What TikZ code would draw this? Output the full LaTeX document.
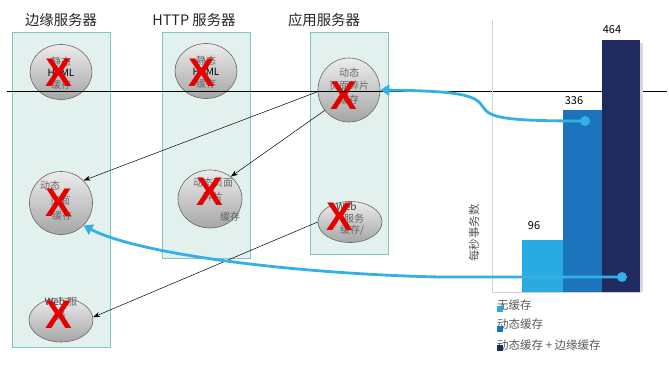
\documentclass[tikz,border=0pt]{standalone}
\usepackage{fontspec}
\setmainfont{Noto Sans CJK SC}
\newfontfamily\crossfont{Liberation Sans}
\usetikzlibrary{arrows.meta,shapes.geometric}

\definecolor{boxfill}{HTML}{E2F1EE}
\definecolor{boxline}{HTML}{80C6C2}
\definecolor{barlight}{HTML}{29ABE2}
\definecolor{barmid}{HTML}{1C75BC}
\definecolor{bardark}{HTML}{212A5E}
\definecolor{flow}{HTML}{33B1E6}

\begin{document}
\begin{tikzpicture}[x=1pt,y=-1pt,
        server/.style={draw=boxline, fill=boxfill, line width=0.8pt},
        store/.style={ellipse, draw=black!60, line width=0.6pt, top color=gray!15, bottom color=gray!70, inner sep=0pt},
        storetext/.style={text=black!60, font=\fontsize{10}{11.5}\selectfont, align=center, inner sep=0pt},
        miss/.style={text=red!90!black, font=\crossfont\bfseries\fontsize{40}{40}\selectfont, inner sep=0pt},
        call/.style={-{Stealth[length=7pt,width=5pt]}, line width=0.5pt},
        hit/.style={flow, line width=2.8pt, -{Triangle[length=9pt,width=11pt]}},
        title/.style={font=\fontsize{14.4}{15}\selectfont, text=black!85},
        value/.style={font=\fontsize{11}{11}\selectfont},
        legend/.style={font=\fontsize{11.5}{12}\selectfont, text=black!65, anchor=west, inner sep=0pt}]
        \useasboundingbox (0,0) rectangle (669,369);

        % Server columns
        \draw[server] (12,32) rectangle (110,347);
        \draw[server] (162,32) rectangle (250,258);
        \draw[server] (310,32) rectangle (388,254);
        \node[title] (edge) at (61,20) {边缘服务器};
        \node[title] (http) at (194,20) {HTTP 服务器};
        \node[title] (app) at (324,20) {应用服务器};

        % Caches
        \node[store, minimum width=62pt, minimum height=55pt] (e1) at (61,72) {};
        \node[store, minimum width=62pt, minimum height=55pt] (e2) at (206,71) {};
        \node[store, minimum width=62pt, minimum height=64pt] (e3) at (349,90) {};
        \node[store, minimum width=63pt, minimum height=63pt] (e4) at (61,203) {};
        \node[store, minimum width=64pt, minimum height=58pt] (e5) at (210,199) {};
        \node[store, minimum width=64pt, minimum height=41pt] (e6) at (350,222) {};
        \node[store, minimum width=64pt, minimum height=44pt] (e7) at (61,320) {};

        \node[storetext] (e1t) at (61,73) {静态\\\textcolor{black}{HTML}\\缓存};
        \node[storetext] (e2t) at (206,72) {静态\\\textcolor{black}{HTML}\\缓存};
        \node[storetext, font=\fontsize{10}{13.5}\selectfont] (e3t) at (349,86) {动态\\页面碎片\\缓存};
        \node[storetext, align=left, font=\fontsize{10}{15}\selectfont] (e4t) at (56,201) {动态\\\hspace{10pt}页面\\\hspace{12pt}缓存};
        \node[storetext, font=\fontsize{10}{14}\selectfont] (e5t) at (213,200) {动态页面\\碎片\\[6pt]\hspace{34pt}缓存};
        \node[storetext, align=left] (e6t) at (350,219) {\textcolor{black!75}{Web}\\\hspace{8pt}服务\\\hspace{4pt}缓存/};
        \node[storetext, font=\fontsize{10}{14}\selectfont] (e7t) at (61,309) {\textcolor{black!80}{Web} 服\\务};

        % Cache misses
        \node[miss] (x1) at (59,73) {X};
        \node[miss] (x2) at (202,73) {X};
        \node[miss] (x3) at (344,96) {X};
        \node[miss] (x4) at (59,203) {X};
        \node[miss] (x5) at (210,192) {X};
        \node[miss] (x6) at (340,217) {X};
        \node[miss] (x7) at (59,315) {X};

        % Requests passed down
        \draw[call] (e3.183) -- (e4.45);
        \draw[call] (e3.220) -- (e5.47);
        \draw[call] (e6.180) -- (e7.5);

        % Threshold
        \draw[line width=0.8pt] (7,91) -- (667,91);

        % Chart axes
        \draw[gray!35, line width=1pt] (492,20) -- (492,292) -- (641,292);
        \node[rotate=90, text=black!65, font=\fontsize{11.4}{12}\selectfont] (ylab) at (474,233) {每秒事务数};

        % Bars
        \fill[black!15] (640,43) rectangle (643,292);
        \fill[barlight] (522,240) rectangle (563,292);
        \fill[barmid] (563,110) rectangle (602,292);
        \fill[bardark] (602,40) rectangle (640,292);
        \node[value] (v1) at (534,226) {96};
        \node[value] (v2) at (574,101) {336};
        \node[value] (v3) at (612,30) {464};

        % Legend
        \node[legend] (l1) at (497,305) {无缓存};
        \node[legend] (l2) at (497,324) {动态缓存};
        \node[legend] (l3) at (497,345) {动态缓存 + 边缘缓存};
        \fill[barlight] (497,306) rectangle (503,312);
        \fill[barmid] (497,326) rectangle (503,332);
        \fill[bardark] (497,345) rectangle (503,351);

        % Throughput gains
        \coordinate (d1) at (585,121);
        \coordinate (d2) at (622,277);
        \draw[hit] (d1) .. controls (505,121) and (490,118) .. (483,107) .. controls (476,95) and (460,91) .. (e3.east);
        \draw[hit] (d2) -- (440,277) .. controls (300,274) and (140,255) .. (e4.-45);
        \fill[flow] (d1) circle (5);
        \fill[flow] (d2) circle (5);
    \end{tikzpicture}
\end{document}
